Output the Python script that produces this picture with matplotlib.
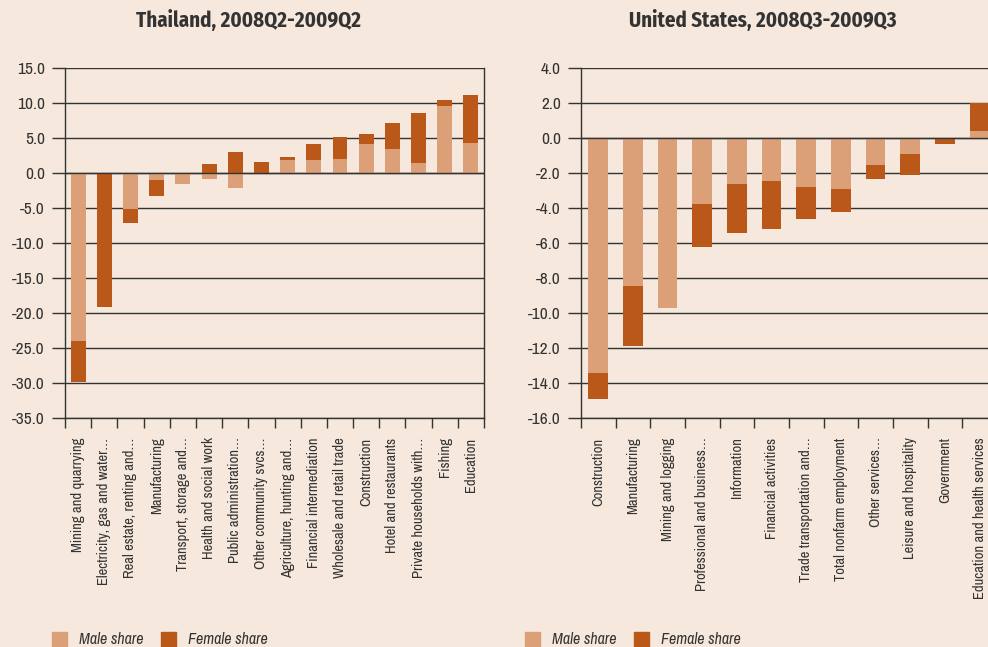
import matplotlib
matplotlib.use("Agg")
import matplotlib.pyplot as plt
from matplotlib.patches import Rectangle
import numpy as np

BG = "#F6E8DC"
MALE = "#DBA077"
FEMALE = "#B95818"
INK = "#333333"

plt.rcParams["font.family"] = ["Archivo Narrow", "DejaVu Sans"]
TITLE_FONT = ["Fira Sans Condensed", "DejaVu Sans"]

# Thailand, 2008Q2-2009Q2
th_labels = [
    "Mining and quarrying", "Electricity, gas and water…", "Real estate, renting and…",
    "Manufacturing", "Transport, storage and…", "Health and social work",
    "Public administration…", "Other community svcs…", "Agriculture, hunting and…",
    "Financial intermediation", "Wholesale and retail trade", "Construction",
    "Hotel and restaurants", "Private households with…", "Fishing", "Education",
]
th_male = [-24.0, 0.0, -5.1, -0.95, -1.6, -0.8, -2.2, 0.0, 1.8, 1.8, 1.95, 4.2, 3.5, 1.5, 9.6, 4.35]
th_female = [-5.8, -19.2, -2.1, -2.4, 0.0, 1.35, 3.05, 1.6, 0.5, 2.4, 3.25, 1.4, 3.7, 7.1, 0.9, 6.85]

# United States, 2008Q3-2009Q3
us_labels = [
    "Construction", "Manufacturing", "Mining and logging", "Professional and business…",
    "Information", "Financial activities", "Trade transportation and…",
    "Total nonfarm employment", "Other services…", "Leisure and hospitality",
    "Government", "Education and health services",
]
us_male = [-13.45, -8.45, -9.7, -3.75, -2.6, -2.45, -2.78, -2.9, -1.52, -0.9, 0.0, 0.42]
us_female = [-1.45, -3.45, 0.0, -2.45, -2.8, -2.75, -1.83, -1.3, -0.8, -1.2, -0.32, 1.58]

fig = plt.figure(figsize=(9.88, 6.47), dpi=100, facecolor=BG)


def draw(ax, labels, male, female, ylim, step):
    ax.set_facecolor(BG)
    x = np.arange(len(labels))
    male = np.array(male)
    female = np.array(female)
    # female stacks on male when same sign, otherwise starts from zero
    bottom = np.where(np.sign(male) == np.sign(female), male, 0.0)
    ax.bar(x, male, width=0.57, color=MALE, zorder=3)
    ax.bar(x, female, bottom=bottom, width=0.57, color=FEMALE, zorder=3)

    ax.set_xlim(-0.5, len(labels) - 0.5)
    ax.set_ylim(*ylim)
    ax.set_yticks(np.arange(ylim[0], ylim[1] + step / 2, step))
    ax.yaxis.set_major_formatter(matplotlib.ticker.FormatStrFormatter("%.1f"))
    ax.grid(axis="y", color=INK, linewidth=1.0, zorder=1)
    ax.axhline(0, color=INK, linewidth=1.0, zorder=4)
    ax.tick_params(axis="y", length=9.5, width=1.0, color=INK, pad=5,
                   labelsize=12.5, labelcolor=INK)

    ax.set_xticks(x)
    ax.set_xticklabels(labels, rotation=90, va="top", ha="center")
    ax.set_xticks(np.arange(len(labels) + 1) - 0.5, minor=True)
    ax.tick_params(axis="x", which="major", length=0, pad=14, labelsize=10.5, labelcolor=INK)
    ax.tick_params(axis="x", which="minor", length=7.5, width=1.0, color=INK)

    for s in ["left", "bottom", "right"]:
        ax.spines[s].set_color(INK)
        ax.spines[s].set_linewidth(1.0)
    ax.spines["top"].set_visible(False)


ax1 = fig.add_axes([0.0658, 0.3539, 0.4241, 0.541])
draw(ax1, th_labels, th_male, th_female, (-35, 15), 5)

ax2 = fig.add_axes([0.588, 0.3539, 0.421, 0.541])
draw(ax2, us_labels, us_male, us_female, (-16, 4), 2)

fig.text(248 / 988, 1 - 20 / 647, "Thailand, 2008Q2-2009Q2", fontsize=15, fontweight="bold",
         color=INK, ha="center", va="center", family=TITLE_FONT)
fig.text(763 / 988, 1 - 20 / 647, "United States, 2008Q3-2009Q3", fontsize=15, fontweight="bold",
         color=INK, ha="center", va="center", family=TITLE_FONT)

# legends along the bottom edge
for x0 in (52, 525):
    for dx, col, txt in ((0, MALE, "Male share"), (109, FEMALE, "Female share")):
        fig.patches.append(Rectangle(((x0 + dx) / 988, 0), 15 / 988, 15 / 647,
                                     transform=fig.transFigure, color=col))
        fig.text((x0 + dx + 27) / 988, 8 / 647, txt, fontsize=11.5, style="italic",
                 color=INK, va="center", ha="left")

fig.savefig("out.png", dpi=100, facecolor=BG)
